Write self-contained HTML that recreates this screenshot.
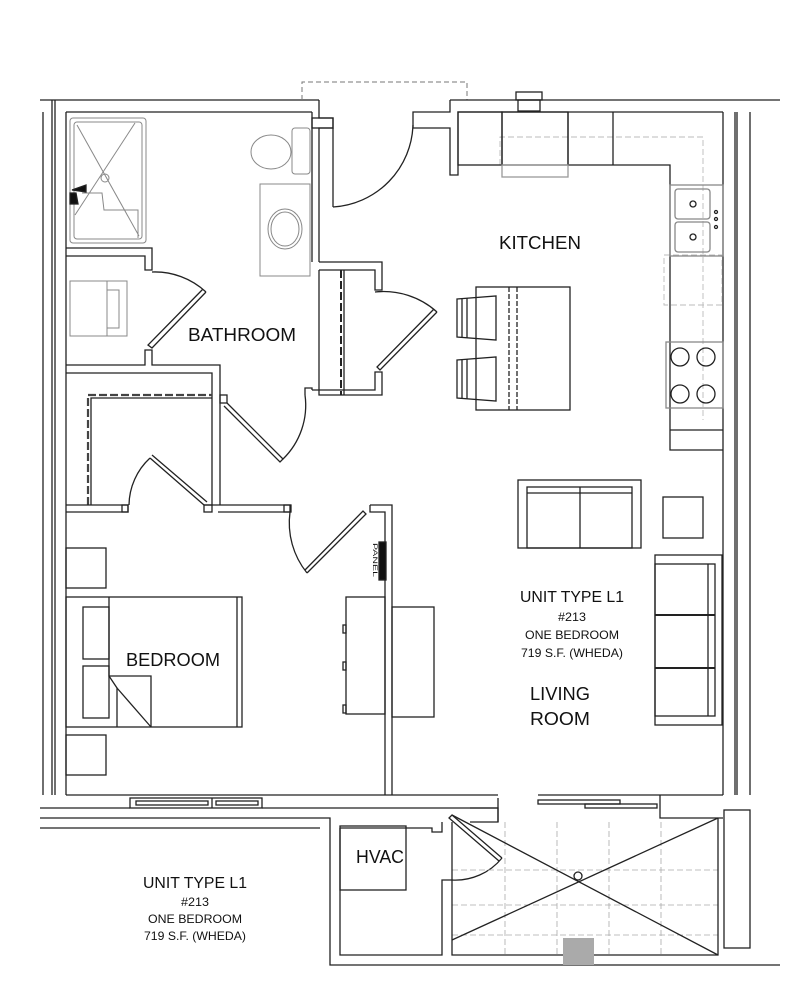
<!DOCTYPE html>
<html><head><meta charset="utf-8"><style>
html,body{margin:0;padding:0;background:#fff;}
svg{display:block;}
text{font-family:"Liberation Sans",sans-serif;fill:#111;}
</style></head><body>
<svg width="791" height="1000" viewBox="0 0 791 1000" xmlns="http://www.w3.org/2000/svg">
<g fill="none" stroke="#222" stroke-width="1.3">
<!-- outer top walls -->
<polyline points="40,100 319,100"/>
<polyline points="66,112 312,112"/>
<polyline points="302,100 302,82 467,82 467,100" stroke-dasharray="5,3" stroke="#777" stroke-width="1"/>
<polyline points="450,100 780,100"/>
<polyline points="450,100 450,112 413,112 413,128 450,128 450,175 458,175 458,112 723,112"/>
<rect x="516" y="92" width="26" height="8"/><rect x="518" y="100" width="22" height="11"/>
<!-- left walls -->
<line x1="43" y1="112" x2="43" y2="795"/><line x1="52" y1="100" x2="52" y2="795"/><line x1="55" y1="100" x2="55" y2="795"/><line x1="66" y1="112" x2="66" y2="795"/>
<!-- right walls -->
<line x1="723" y1="112" x2="723" y2="795"/><line x1="735" y1="112" x2="735" y2="795"/><line x1="737" y1="112" x2="737" y2="795"/><line x1="750" y1="112" x2="750" y2="795"/>
<!-- bathroom right wall / door to kitchen -->
<polyline points="312,112 312,262"/>
<polyline points="319,100 319,118 333,118 333,128 319,128 319,262"/>
<rect x="312" y="118" width="21" height="10"/>
<line x1="333" y1="128" x2="333" y2="207"/>
<path d="M333,207 A85,85 0 0 0 413,125"/>
<!-- linen closet -->
<polyline points="319,262 382,262 382,290 375,290 375,270 319,270"/>
<polyline points="319,270 319,395 382,395 382,372 375,372 375,390 312,390"/>
<line x1="341" y1="270" x2="341" y2="395" stroke-dasharray="8,3" stroke-width="2"/>
<line x1="344" y1="270" x2="344" y2="395"/>
<path d="M375,292 A80,80 0 0 1 437,312"/>
<polyline points="437,312 380,370 377,367 434,309"/>
<!-- bathroom fixtures -->
<g stroke="#888" stroke-width="1">
<rect x="70" y="118" width="76" height="125" rx="3"/>
<rect x="74" y="122" width="68" height="117" rx="3"/>
<line x1="77" y1="125" x2="139" y2="236"/><line x1="135" y1="123" x2="75" y2="215"/>
<circle cx="105" cy="178" r="4"/>
<polyline points="82,193 102,193 104,210 138,210 138,238"/>
<rect x="292" y="128" width="18" height="46" rx="3"/>
<ellipse cx="271" cy="152" rx="20" ry="17"/>
<rect x="260" y="184" width="50" height="92"/>
<ellipse cx="285" cy="229" rx="17" ry="20"/><ellipse cx="285" cy="229" rx="14" ry="17"/>
<rect x="70" y="281" width="57" height="55"/><line x1="107" y1="281" x2="107" y2="336"/><rect x="107" y="290" width="12" height="38"/>
</g>
<polygon points="72,190 86,185 86,192" fill="#111"/>
<polygon points="70,193 76,193 78,204 70,204" fill="#111"/>
<!-- bathroom lower walls -->
<polyline points="66,248 152,248 152,270 145,270 145,256 66,256"/>
<path d="M152,272 A75,75 0 0 1 206,292"/>
<polyline points="206,292 152,348 148,345 203,289"/>
<polyline points="66,365 145,365 145,350 152,350 152,365 220,365 220,395"/>
<polyline points="66,373 212,373 212,505"/>
<polyline points="220,395 220,505"/>
<rect x="220" y="395" width="7" height="8"/>
<polyline points="227,403 283,459 280,462 224,406"/>
<path d="M283,459 A75,75 0 0 0 305,395"/>
<polyline points="305,395 305,388 312,388 312,390"/>
<!-- closet -->
<polyline points="88,505 88,395 212,395" stroke-dasharray="8,3" stroke-width="2.2" stroke="#444"/>
<polyline points="91,505 91,398 212,398"/>
<path d="M129,505 A65,65 0 0 1 150,458"/>
<polyline points="150,458 204,505"/>
<line x1="152" y1="455" x2="207" y2="502"/>
<!-- bedroom top wall -->
<polyline points="66,505 128,505 128,512 66,512"/>
<rect x="122" y="505" width="6" height="7"/>
<polyline points="204,505 290,505 290,512 218,512"/>
<rect x="204" y="505" width="8" height="7"/><rect x="284" y="505" width="7" height="7"/>
<path d="M290,512 A80,80 0 0 0 307,573"/>
<polyline points="307,573 366,514 363,511 305,570"/>
<polyline points="370,505 392,505 392,795"/><polyline points="370,505 370,512 385,512 385,795"/>
<rect x="379" y="542" width="7" height="38" fill="#111"/>
<!-- bedroom furniture -->
<rect x="66" y="548" width="40" height="40"/><rect x="66" y="735" width="40" height="40"/>
<rect x="66" y="597" width="176" height="130"/><line x1="237" y1="597" x2="237" y2="727"/>
<rect x="83" y="607" width="26" height="52"/><rect x="83" y="666" width="26" height="52"/>
<polyline points="109,597 109,676 151,676 151,727"/><polyline points="109,676 117,688 117,727"/><line x1="117" y1="688" x2="151" y2="727"/>
<rect x="346" y="597" width="39" height="117"/>
<rect x="343" y="625" width="3" height="8"/><rect x="343" y="662" width="3" height="8"/><rect x="343" y="705" width="3" height="8"/>
<rect x="392" y="607" width="42" height="110"/>
<!-- bottom wall unit -->
<line x1="66" y1="795" x2="498" y2="795"/>
<polyline points="40,818 330,818 330,965 780,965"/>
<polyline points="40,828 320,828"/>
<line x1="40" y1="808" x2="130" y2="808"/><line x1="262" y1="808" x2="498" y2="808"/>
<rect x="130" y="798" width="132" height="10"/><line x1="212" y1="798" x2="212" y2="808"/>
<rect x="136" y="801" width="72" height="4"/><rect x="216" y="801" width="42" height="4"/>
<line x1="498" y1="798" x2="498" y2="808"/>
<line x1="538" y1="795" x2="723" y2="795"/>
<rect x="538" y="800" width="82" height="4"/><rect x="585" y="804" width="72" height="4"/>
<line x1="660" y1="795" x2="660" y2="808"/><line x1="498" y1="808" x2="498" y2="822"/>
<polyline points="470,822 498,822 498,808 470,808"/>
<polyline points="660,808 660,818 723,818"/>
<polyline points="340,828 340,955 442,955 442,880 452,880"/>
<polyline points="340,828 432,828 432,832 442,832 442,822"/>
<rect x="340" y="826" width="66" height="64"/>
<path d="M452,880 A60,60 0 0 0 502,858"/>
<polyline points="502,858 452,815 449,818 499,861"/>
<!-- balcony -->
<g stroke="#aaa" stroke-width="0.8" stroke-dasharray="6,3">
<line x1="452" y1="870" x2="718" y2="870"/><line x1="452" y1="905" x2="718" y2="905"/><line x1="452" y1="935" x2="718" y2="935"/>
<line x1="505" y1="822" x2="505" y2="955"/><line x1="557" y1="822" x2="557" y2="955"/><line x1="609" y1="822" x2="609" y2="955"/><line x1="661" y1="822" x2="661" y2="955"/>
</g>
<polyline points="452,822 452,955 718,955 718,818"/>
<line x1="452" y1="815" x2="718" y2="955"/><line x1="718" y1="818" x2="452" y2="940"/>
<circle cx="578" cy="876" r="4" fill="#fff"/>
<rect x="563" y="938" width="31" height="27" fill="#aaa" stroke="none"/>
<rect x="724" y="810" width="26" height="138"/>
<!-- kitchen -->
<g stroke="#bbb" stroke-width="0.9" stroke-dasharray="6,3">
<polyline points="500,165 500,137 703,137 703,420"/>
<rect x="664" y="255" width="58" height="50"/>
<polyline points="500,165 566,165"/>
</g>
<rect x="458" y="112" width="44" height="53"/>
<rect x="502" y="112" width="66" height="53"/>
<line x1="568" y1="112" x2="568" y2="165"/><line x1="613" y1="112" x2="613" y2="165"/>
<polyline points="568,165 670,165 670,450 723,450"/>
<rect x="502" y="165" width="66" height="12" stroke="#999"/>
<rect x="670" y="185" width="53" height="71" stroke="#888"/>
<rect x="675" y="189" width="35" height="30" rx="3" stroke="#888"/><rect x="675" y="222" width="35" height="30" rx="3" stroke="#888"/>
<circle cx="693" cy="204" r="3"/><circle cx="693" cy="237" r="3"/>
<circle cx="716" cy="212" r="1.5"/><circle cx="716" cy="219" r="1.5"/><circle cx="716" cy="227" r="1.5"/>
<rect x="666" y="342" width="57" height="66" stroke="#888"/>
<circle cx="680" cy="357" r="9"/><circle cx="706" cy="357" r="9"/><circle cx="680" cy="394" r="9"/><circle cx="706" cy="394" r="9"/>
<line x1="670" y1="430" x2="723" y2="430"/>
<!-- island -->
<rect x="476" y="287" width="94" height="123"/>
<line x1="509" y1="287" x2="509" y2="410" stroke-dasharray="5,2"/><line x1="517" y1="287" x2="517" y2="410" stroke-dasharray="5,2"/>
<polygon points="457,299 496,296 496,340 457,337"/><line x1="462" y1="299" x2="462" y2="337"/><line x1="467" y1="298" x2="467" y2="338"/>
<polygon points="457,360 496,357 496,401 457,398"/><line x1="462" y1="360" x2="462" y2="398"/><line x1="467" y1="359" x2="467" y2="399"/>
<!-- living -->
<rect x="518" y="480" width="123" height="68"/>
<rect x="527" y="487" width="105" height="61"/><line x1="527" y1="493" x2="632" y2="493"/><line x1="580" y1="487" x2="580" y2="548"/>
<rect x="663" y="497" width="40" height="41"/>
<rect x="655" y="555" width="67" height="170"/>
<rect x="655" y="564" width="60" height="152"/><line x1="708" y1="564" x2="708" y2="716"/>
<line x1="655" y1="615" x2="715" y2="615" stroke-width="2"/><line x1="655" y1="668" x2="715" y2="668" stroke-width="2"/>
</g>
<text x="540" y="249" font-size="18" text-anchor="middle" textLength="82" lengthAdjust="spacingAndGlyphs">KITCHEN</text>
<text x="242" y="341" font-size="18" text-anchor="middle" textLength="108" lengthAdjust="spacingAndGlyphs">BATHROOM</text>
<text x="173" y="666" font-size="18" text-anchor="middle" textLength="94" lengthAdjust="spacingAndGlyphs">BEDROOM</text>
<text x="572" y="602" font-size="16" text-anchor="middle" textLength="104" lengthAdjust="spacingAndGlyphs">UNIT TYPE L1</text>
<text x="572" y="621" font-size="12" text-anchor="middle" textLength="28" lengthAdjust="spacingAndGlyphs">#213</text>
<text x="572" y="639" font-size="12" text-anchor="middle" textLength="94" lengthAdjust="spacingAndGlyphs">ONE BEDROOM</text>
<text x="572" y="657" font-size="12" text-anchor="middle" textLength="102" lengthAdjust="spacingAndGlyphs">719 S.F. (WHEDA)</text>
<text x="560" y="700" font-size="18" text-anchor="middle" textLength="60" lengthAdjust="spacingAndGlyphs">LIVING</text>
<text x="560" y="725" font-size="18" text-anchor="middle" textLength="60" lengthAdjust="spacingAndGlyphs">ROOM</text>
<text x="380" y="863" font-size="18" text-anchor="middle" textLength="48" lengthAdjust="spacingAndGlyphs">HVAC</text>
<text x="195" y="888" font-size="16" text-anchor="middle" textLength="104" lengthAdjust="spacingAndGlyphs">UNIT TYPE L1</text>
<text x="195" y="906" font-size="12" text-anchor="middle" textLength="28" lengthAdjust="spacingAndGlyphs">#213</text>
<text x="195" y="923" font-size="12" text-anchor="middle" textLength="94" lengthAdjust="spacingAndGlyphs">ONE BEDROOM</text>
<text x="195" y="940" font-size="12" text-anchor="middle" textLength="102" lengthAdjust="spacingAndGlyphs">719 S.F. (WHEDA)</text>
<text x="373" y="543" font-size="6" transform="rotate(90 373 543)" textLength="34" lengthAdjust="spacingAndGlyphs">PANEL</text>
</svg>
</body></html>
